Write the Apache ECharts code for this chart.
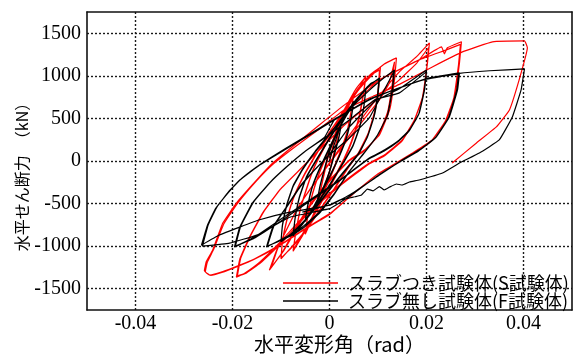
<!DOCTYPE html>
<html><head><meta charset="utf-8">
<script src="https://cdn.jsdelivr.net/npm/echarts@6/dist/echarts.min.js"></script>
<style>html,body{margin:0;padding:0;background:#fff}#c{width:576px;height:356px}</style>
</head><body><div id="c"></div>
<script>
const seriesNames = ['スラブつき試験体(S試験体)', 'スラブ無し試験体(F試験体)'];
const xTickValues = [-0.04, -0.02, 0, 0.02, 0.04];
const yTickValues = [-1500, -1000, -500, 0, 500, 1000, 1500];
const xTitle = '水平変形角（rad）';
const yTitle = '水平せん断力　（kN）';

// S specimen (with slab) — drift angle (rad), shear (kN)
const sAmp1 = [[0,0],[0.001,250],[0.0025,560],[0.002,380],[0.001,120],[0,-120],[-0.0012,-330],[-0.0025,-580],[-0.002,-380],[-0.001,-120],[0,120],[0.0012,330],[0.0025,560],[0.002,370],[0.001,110],[0,-130],[-0.0012,-340],[-0.0025,-590],[-0.002,-390],[-0.001,-130],[0,110]];
const sAmp2 = [[0.0015,380],[0.003,580],[0.005,800],[0.0045,600],[0.0035,320],[0.002,80],[0,-200],[-0.002,-450],[-0.0035,-650],[-0.005,-850],[-0.0045,-650],[-0.0035,-380],[-0.002,-120],[0,150],[0.002,420],[0.0035,620],[0.005,790],[0.0045,590],[0.0035,310],[0.002,60],[0,-220],[-0.002,-470],[-0.0035,-670],[-0.005,-860],[-0.0045,-660],[-0.0035,-390],[-0.002,-130],[0,140]];
const sAmp3 = [[0.002,420],[0.004,650],[0.006,850],[0.0075,1000],[0.007,800],[0.006,500],[0.0045,230],[0.003,30],[0,-300],[-0.003,-600],[-0.0055,-850],[-0.0075,-1050],[-0.007,-850],[-0.006,-560],[-0.0045,-280],[-0.003,-50],[0,280],[0.003,600],[0.0055,850],[0.0075,990],[0.007,780],[0.006,480],[0.0045,210],[0.003,10],[0,-320],[-0.003,-620],[-0.0055,-870],[-0.0075,-1060],[-0.007,-860],[-0.006,-570],[-0.0045,-290],[-0.003,-60],[0,270]];
const sAmp4 = [[0.003,580],[0.006,850],[0.0085,1020],[0.0105,1100],[0.0102,900],[0.0095,620],[0.008,330],[0.006,100],[0.004,-60],[0.001,-320],[-0.002,-570],[-0.005,-820],[-0.008,-1020],[-0.01,-1150],[-0.0097,-950],[-0.0088,-700],[-0.0075,-450],[-0.0055,-200],[-0.003,50],[0,330],[0.003,600],[0.006,860],[0.0085,1010],[0.0103,1070],[0.0101,880],[0.0094,600],[0.0079,310],[0.006,90],[0.004,-70],[0.001,-330],[-0.002,-580],[-0.005,-830],[-0.008,-1030],[-0.01,-1140],[-0.0097,-940],[-0.0088,-690],[-0.0075,-440],[-0.0055,-190],[-0.003,60],[0,340]];
const sAmp5 = [[0.0031,600],[0.0062,850],[0.0093,1040],[0.0113,1140],[0.0138,1211],[0.0134,953],[0.0124,600],[0.0103,306],[0.0072,129],[0.0041,12],[0,-223],[-0.0041,-517],[-0.0072,-811],[-0.0097,-1070],[-0.0124,-1282],[-0.0109,-1047],[-0.0089,-811],[-0.0068,-576],[-0.0041,-341],[-0.001,-106],[0.0021,129],[0.0062,423],[0.0103,717],[0.0122,900],[0.0134,1165],[0.013,930],[0.012,580],[0.01,290],[0.007,110],[0.004,0],[0,-240],[-0.004,-530],[-0.007,-820],[-0.0095,-1060],[-0.012,-1250],[-0.0107,-1030],[-0.0087,-790],[-0.0066,-560],[-0.004,-330],[-0.001,-100],[0.002,140]];
const sAmp6 = [[0.006,450],[0.01,750],[0.0144,1047],[0.0179,1223],[0.0206,1388],[0.0202,1152],[0.0192,752],[0.0175,482],[0.015,247],[0.0113,71],[0.0082,-24],[0.0021,-282],[-0.0041,-576],[-0.0103,-960],[-0.0144,-1188],[-0.0175,-1317],[-0.0192,-1364],[-0.0185,-1153],[-0.0165,-894],[-0.0138,-611],[-0.0103,-341],[-0.0062,-106],[-0.0021,129],[0.0031,423],[0.0093,717],[0.0144,953],[0.018,1150],[0.0204,1330],[0.0201,1120],[0.0191,730],[0.0174,460],[0.0149,230],[0.0112,55],[0.008,-40],[0.002,-300],[-0.004,-590],[-0.01,-970],[-0.0142,-1195],[-0.0173,-1320],[-0.019,-1350],[-0.0183,-1140],[-0.0163,-880],[-0.0136,-600],[-0.0101,-330],[-0.006,-95],[-0.002,140]];
const sAmp7 = [[0.0031,560],[0.0103,953],[0.0185,1188],[0.0231,1340],[0.0237,1258],[0.0243,1329],[0.0272,1400],[0.0268,1152],[0.0258,752],[0.0241,482],[0.0212,247],[0.0171,94],[0.0144,0],[0.01,-150],[0.005,-380],[0,-620],[-0.0052,-800],[-0.0103,-988],[-0.0155,-1150],[-0.0185,-1223],[-0.022,-1300],[-0.0247,-1340],[-0.0258,-1290],[-0.0254,-1180],[-0.0241,-1047],[-0.022,-729],[-0.0192,-494],[-0.015,-223],[-0.0117,-24],[-0.0072,188],[-0.0021,423],[0.0031,659],[0.0103,953],[0.0185,1188],[0.0241,1305],[0.027,1370],[0.0266,1130],[0.0256,735],[0.0239,470],[0.021,235],[0.0169,80],[0.0142,-10],[0.0098,-160],[0.0048,-390],[0,-630],[-0.0053,-810],[-0.0105,-1000],[-0.0157,-1160],[-0.0188,-1235],[-0.0222,-1310],[-0.0245,-1345],[-0.0256,-1300],[-0.0252,-1190],[-0.0239,-1040],[-0.0218,-740],[-0.019,-500],[-0.015,-230],[-0.0115,-30],[-0.007,170],[-0.002,380]];
const sFinal = [[0.003,600],[0.009,760],[0.0144,900],[0.0212,1105],[0.0274,1282],[0.0336,1400],[0.0402,1411],[0.0408,1329],[0.0391,953],[0.0371,600],[0.0344,400],[0.0303,212],[0.0253,-24]];

// F specimen (without slab)
const fAmp1 = [[0,0],[0.001,200],[0.0025,450],[0.002,300],[0.001,80],[0,-120],[-0.0012,-300],[-0.0025,-460],[-0.002,-300],[-0.001,-80],[0,120],[0.0012,300],[0.0025,450],[0.002,290],[0.001,70],[0,-130],[-0.0012,-310],[-0.0025,-470],[-0.002,-310],[-0.001,-90],[0,110]];
const fAmp2 = [[0.0015,320],[0.0032,520],[0.005,700],[0.0045,520],[0.0035,280],[0.002,60],[0,-180],[-0.002,-400],[-0.0035,-560],[-0.005,-700],[-0.0045,-520],[-0.0035,-290],[-0.002,-80],[0,160],[0.002,390],[0.0035,560],[0.005,690],[0.0045,510],[0.0035,270],[0.002,50],[0,-190],[-0.002,-410],[-0.0035,-570],[-0.005,-710],[-0.0045,-530],[-0.0035,-300],[-0.002,-90],[0,150]];
const fAmp3 = [[0.002,380],[0.004,580],[0.006,740],[0.0075,850],[0.0071,650],[0.0062,400],[0.0048,180],[0.003,0],[0,-280],[-0.003,-530],[-0.0055,-730],[-0.0075,-880],[-0.0071,-680],[-0.0062,-430],[-0.0048,-200],[-0.003,-20],[0,260],[0.003,520],[0.0055,720],[0.0075,840],[0.0071,640],[0.0062,390],[0.0048,170],[0.003,-10],[0,-290],[-0.003,-540],[-0.0055,-740],[-0.0075,-870],[-0.0071,-670],[-0.0062,-420],[-0.0048,-190],[-0.003,-10],[0,270]];
const fAmp4 = [[0.003,520],[0.006,740],[0.0085,900],[0.0103,976],[0.01,780],[0.0092,520],[0.0078,280],[0.006,90],[0.004,-50],[0.001,-260],[-0.002,-480],[-0.005,-690],[-0.008,-860],[-0.01,-950],[-0.0097,-760],[-0.0088,-520],[-0.0075,-300],[-0.0055,-100],[-0.003,100],[0,310],[0.003,540],[0.006,760],[0.0085,910],[0.0102,960],[0.0099,770],[0.0091,510],[0.0077,270],[0.006,80],[0.004,-60],[0.001,-270],[-0.002,-490],[-0.005,-700],[-0.008,-870],[-0.01,-940],[-0.0097,-750],[-0.0088,-510],[-0.0075,-290],[-0.0055,-90],[-0.003,110],[0,320]];
const fAmp5 = [[0.0041,600],[0.0082,830],[0.0113,980],[0.0134,1070],[0.013,835],[0.012,541],[0.0099,306],[0.0072,100],[0.0041,-120],[0.001,-380],[-0.0021,-600],[-0.0056,-776],[-0.0082,-870],[-0.013,-1011],[-0.0117,-776],[-0.0089,-541],[-0.0062,-306],[-0.0031,-106],[0,71],[0.0041,270],[0.0082,506],[0.0113,835],[0.0133,1050],[0.0129,820],[0.0119,530],[0.0098,295],[0.0071,90],[0.004,-130],[0.001,-390],[-0.002,-610],[-0.0055,-790],[-0.008,-880],[-0.0128,-1000],[-0.0115,-770],[-0.0087,-530],[-0.006,-300],[-0.003,-100],[0,80]];
const fAmp6 = [[0.0041,400],[0.0093,700],[0.0144,850],[0.02,1070],[0.0196,835],[0.0185,564],[0.0165,365],[0.0144,247],[0.0113,129],[0.0082,35],[0.0021,-223],[-0.0041,-459],[-0.0103,-694],[-0.0155,-894],[-0.0196,-1011],[-0.0185,-776],[-0.0159,-494],[-0.0124,-259],[-0.0089,-71],[-0.0052,106],[-0.001,270],[0.0041,482],[0.0093,717],[0.0144,800],[0.02,1050],[0.0195,820],[0.0184,550],[0.0164,350],[0.0143,235],[0.0112,115],[0.008,20],[0.002,-235],[-0.004,-470],[-0.01,-705],[-0.0153,-900],[-0.0194,-1000],[-0.0183,-765],[-0.0157,-485],[-0.0122,-250],[-0.0087,-62],[-0.005,115],[-0.001,280]];
const fAmp7 = [[0.001,482],[0.0082,717],[0.0144,858],[0.0206,976],[0.0268,1035],[0.0264,835],[0.0247,517],[0.022,282],[0.0185,129],[0.015,12],[0.0103,-165],[0.0041,-400],[0,-520],[-0.0082,-600],[-0.0144,-690],[-0.0185,-776],[-0.0227,-870],[-0.0264,-988],[-0.0252,-760],[-0.0235,-560],[-0.021,-380],[-0.0185,-223],[-0.0144,-47],[-0.0093,129],[-0.0041,306],[0.001,482],[0.0082,717],[0.0144,858],[0.0206,976],[0.0266,1020],[0.0262,825],[0.0245,505],[0.0218,270],[0.0183,115],[0.0148,0],[0.01,-170],[0.004,-420],[0,-560],[-0.0082,-660],[-0.015,-870],[-0.0206,-964],[-0.0262,-1000],[-0.025,-750],[-0.0232,-540],[-0.0208,-360],[-0.018,-200],[-0.014,-30],[-0.009,150],[-0.004,320]];
const fFinal = [[0.001,490],[0.008,720],[0.0144,860],[0.02,960],[0.0268,1030],[0.033,1060],[0.0402,1082],[0.0395,835],[0.0377,517],[0.035,247],[0.0309,94],[0.0268,-24],[0.0233,-141],[0.0185,-223],[0.0165,-247],[0.015,-282],[0.0138,-270],[0.0124,-306],[0.0113,-340],[0.0103,-300],[0.009,-350],[0.0078,-330],[0.0066,-400],[0.0052,-420],[0.0041,-435],[0.0021,-459],[0,-517],[-0.0025,-553],[-0.0056,-600]];

const sData = [].concat(sAmp1, sAmp2, sAmp3, sAmp4, sAmp5, sAmp6, sAmp7, sFinal);
const fData = [].concat(fAmp1, fAmp2, fAmp3, fAmp4, fAmp5, fAmp6, fAmp7, fFinal);

const serifFont = '"Liberation Serif", "DejaVu Serif", serif';
const cjkFont = '"Noto Sans CJK JP", "Noto Sans", sans-serif';
const gridLine = { show: true, showMinLine: true, showMaxLine: true,
  lineStyle: { color: ['rgba(0,0,0,0)', '#1a1a1a'], type: [2, 2], width: 1.4 } };
const frameLine = { show: true, onZero: false, lineStyle: { color: '#111', width: 1.6 } };

const chart = echarts.init(document.getElementById('c'), null, { renderer: 'canvas' });
chart.setOption({
  animation: false,
  backgroundColor: '#fff',
  grid: { left: 87, right: 4, top: 12, bottom: 46, containLabel: false, outerBoundsMode: 'none' },
  xAxis: [{
    type: 'value', min: -0.05, max: 0.05, interval: 0.01,
    name: xTitle, nameLocation: 'middle', nameGap: 24, nameMoveOverlap: false,
    nameTextStyle: { fontFamily: cjkFont, fontSize: 20, lineHeight: 20, color: '#000', padding: [0, 0, 0, 20] },
    axisLine: frameLine, axisTick: { show: false },
    axisLabel: { margin: 4, fontFamily: serifFont, fontSize: 20, color: '#000',
      formatter: v => { const t = xTickValues.find(x => Math.abs(x - v) < 1e-9); return t === undefined ? '' : (t === 0 ? '0' : t.toFixed(2)); } },
    splitLine: gridLine
  }, {
    type: 'value', position: 'top', min: -0.05, max: 0.05, interval: 0.01,
    axisLine: frameLine, axisTick: { show: false }, axisLabel: { show: false }, splitLine: { show: false }
  }],
  yAxis: [{
    type: 'value', min: -1750, max: 1750, interval: 250,
    name: yTitle, nameLocation: 'middle', nameGap: 57, nameRotate: 90, nameMoveOverlap: false,
    nameTextStyle: { fontFamily: cjkFont, fontSize: 16, lineHeight: 16, color: '#000', padding: [0, 24, 0, 0] },
    axisLine: frameLine, axisTick: { show: false },
    axisLabel: { margin: 6, fontFamily: serifFont, fontSize: 20, color: '#000',
      formatter: v => yTickValues.includes(Math.round(v)) ? String(Math.round(v)) : '' },
    splitLine: gridLine
  }, {
    type: 'value', position: 'right', min: -1750, max: 1750, interval: 250,
    axisLine: frameLine, axisTick: { show: false }, axisLabel: { show: false }, splitLine: { show: false }
  }],
  legend: {
    left: 283, top: 274, orient: 'vertical', itemGap: 0, itemWidth: 55, itemHeight: 1.5,
    icon: 'rect', selectedMode: false, padding: 0,
    textStyle: { fontFamily: cjkFont, fontSize: 18, color: '#000', lineHeight: 16, padding: [0, 0, 0, 5] },
    data: seriesNames
  },
  series: [{
    name: seriesNames[0], type: 'line', data: sData, showSymbol: false, smooth: 0.1,
    lineStyle: { color: '#ff0000', width: 1.2 }, itemStyle: { color: '#ff0000' }, z: 2
  }, {
    name: seriesNames[1], type: 'line', data: fData, showSymbol: false, smooth: 0.1,
    lineStyle: { color: '#000000', width: 1.2 }, itemStyle: { color: '#000000' }, z: 3
  }]
});
</script></body></html>
